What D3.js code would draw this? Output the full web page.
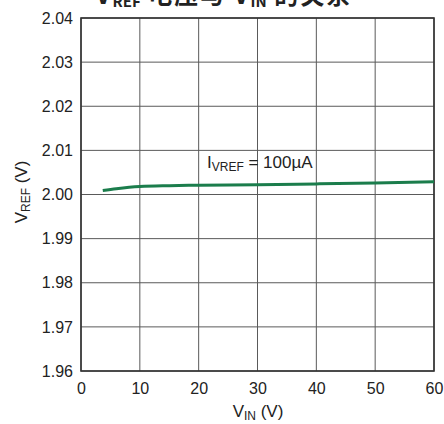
<!DOCTYPE html>
<html>
<head>
<meta charset="utf-8">
<script src="https://cdn.jsdelivr.net/npm/d3@7"></script>
<style>
body { margin: 0; background: #fff; }
svg text { font-family: "Liberation Sans", Arial, sans-serif; fill: #222; }
</style>
</head>
<body>
<svg id="chart" width="444" height="424"></svg>
<script>
// data
var vin  = [3.7, 6, 10, 15, 20, 30, 40, 50, 60];
var vref = [2.0009, 2.0013, 2.0018, 2.0020, 2.0021, 2.0022, 2.0024, 2.0026, 2.0029];
var xTicks = [0, 10, 20, 30, 40, 50, 60];
var yTicks = [1.96, 1.97, 1.98, 1.99, 2.00, 2.01, 2.02, 2.03, 2.04];

var svg = d3.select("#chart");
var margin = {top: 18, right: 10, bottom: 53, left: 81};
var w = 444, h = 424;

var x = d3.scaleLinear().domain([0, 60]).range([margin.left, w - margin.right]);
var y = d3.scaleLinear().domain([1.96, 2.04]).range([h - margin.bottom, margin.top]);

// title, cut off at the top like the original
var title = svg.append("text")
    .attr("x", 224)
    .attr("y", 4)
    .attr("text-anchor", "middle")
    .attr("font-size", "24px")
    .attr("font-weight", "bold")
    .attr("letter-spacing", "2px")
    .style("font-family", "'Noto Sans CJK SC', sans-serif");
title.append("tspan").text("V");
title.append("tspan").attr("font-size", "15px").attr("dy", 3).attr("letter-spacing", "0px").text("REF");
title.append("tspan").attr("dy", -3).text(" 电压与 V");
title.append("tspan").attr("font-size", "15px").attr("dy", 3).attr("letter-spacing", "0px").text("IN");
title.append("tspan").attr("dy", -3).text(" 的关系");

// grid
svg.append("g").selectAll("line")
    .data(xTicks)
    .enter()
    .append("line")
    .attr("x1", function(d) { return x(d); })
    .attr("x2", function(d) { return x(d); })
    .attr("y1", y(1.96))
    .attr("y2", y(2.04))
    .attr("stroke", "#5a5a5a")
    .attr("stroke-width", 1);

svg.append("g").selectAll("line")
    .data(yTicks)
    .enter()
    .append("line")
    .attr("x1", x(0))
    .attr("x2", x(60))
    .attr("y1", function(d) { return y(d); })
    .attr("y2", function(d) { return y(d); })
    .attr("stroke", "#5a5a5a")
    .attr("stroke-width", 1);

// frame
svg.append("rect")
    .attr("x", x(0))
    .attr("y", y(2.04))
    .attr("width", x(60) - x(0))
    .attr("height", y(1.96) - y(2.04))
    .attr("fill", "none")
    .attr("stroke", "#333")
    .attr("stroke-width", 1.6);

// axes (labels only)
var xAxis = d3.axisBottom(x).tickValues(xTicks).tickSize(0).tickPadding(12).tickFormat(d3.format("d"));
var yAxis = d3.axisLeft(y).tickValues(yTicks).tickSize(0).tickPadding(8).tickFormat(d3.format(".2f"));

svg.append("g")
    .attr("transform", "translate(0," + y(1.96) + ")")
    .call(xAxis)
    .call(function(g) { g.select(".domain").remove(); })
    .selectAll("text")
    .attr("font-size", "16px")
    .style("font-family", "'Liberation Sans', Arial, sans-serif")
    .attr("fill", "#222");

svg.append("g")
    .attr("transform", "translate(" + x(0) + ",0)")
    .call(yAxis)
    .call(function(g) { g.select(".domain").remove(); })
    .selectAll("text")
    .attr("font-size", "16px")
    .style("font-family", "'Liberation Sans', Arial, sans-serif")
    .attr("fill", "#222");

// axis titles
var xl = svg.append("text")
    .attr("x", 258)
    .attr("y", 417)
    .attr("text-anchor", "middle")
    .attr("font-size", "17px");
xl.append("tspan").text("V");
xl.append("tspan").attr("font-size", "12px").attr("dy", 3).text("IN");
xl.append("tspan").attr("dy", -3).text(" (V)");

var yl = svg.append("text")
    .attr("transform", "translate(27,192) rotate(-90)")
    .attr("text-anchor", "middle")
    .attr("font-size", "17px");
yl.append("tspan").text("V");
yl.append("tspan").attr("font-size", "12px").attr("dy", 3).text("REF");
yl.append("tspan").attr("dy", -3).text(" (V)");

// curve
var line = d3.line()
    .x(function(d) { return x(d[0]); })
    .y(function(d) { return y(d[1]); })
    .curve(d3.curveMonotoneX);

svg.append("path")
    .datum(d3.zip(vin, vref))
    .attr("d", line)
    .attr("fill", "none")
    .attr("stroke", "#1b7d4c")
    .attr("stroke-width", 3);

// annotation
var ann = svg.append("text")
    .attr("x", 207)
    .attr("y", 168)
    .attr("font-size", "17px");
ann.append("tspan").text("I");
ann.append("tspan").attr("font-size", "12px").attr("dy", 3).text("VREF");
ann.append("tspan").attr("dy", -3).text(" = 100µA");
</script>
</body>
</html>
